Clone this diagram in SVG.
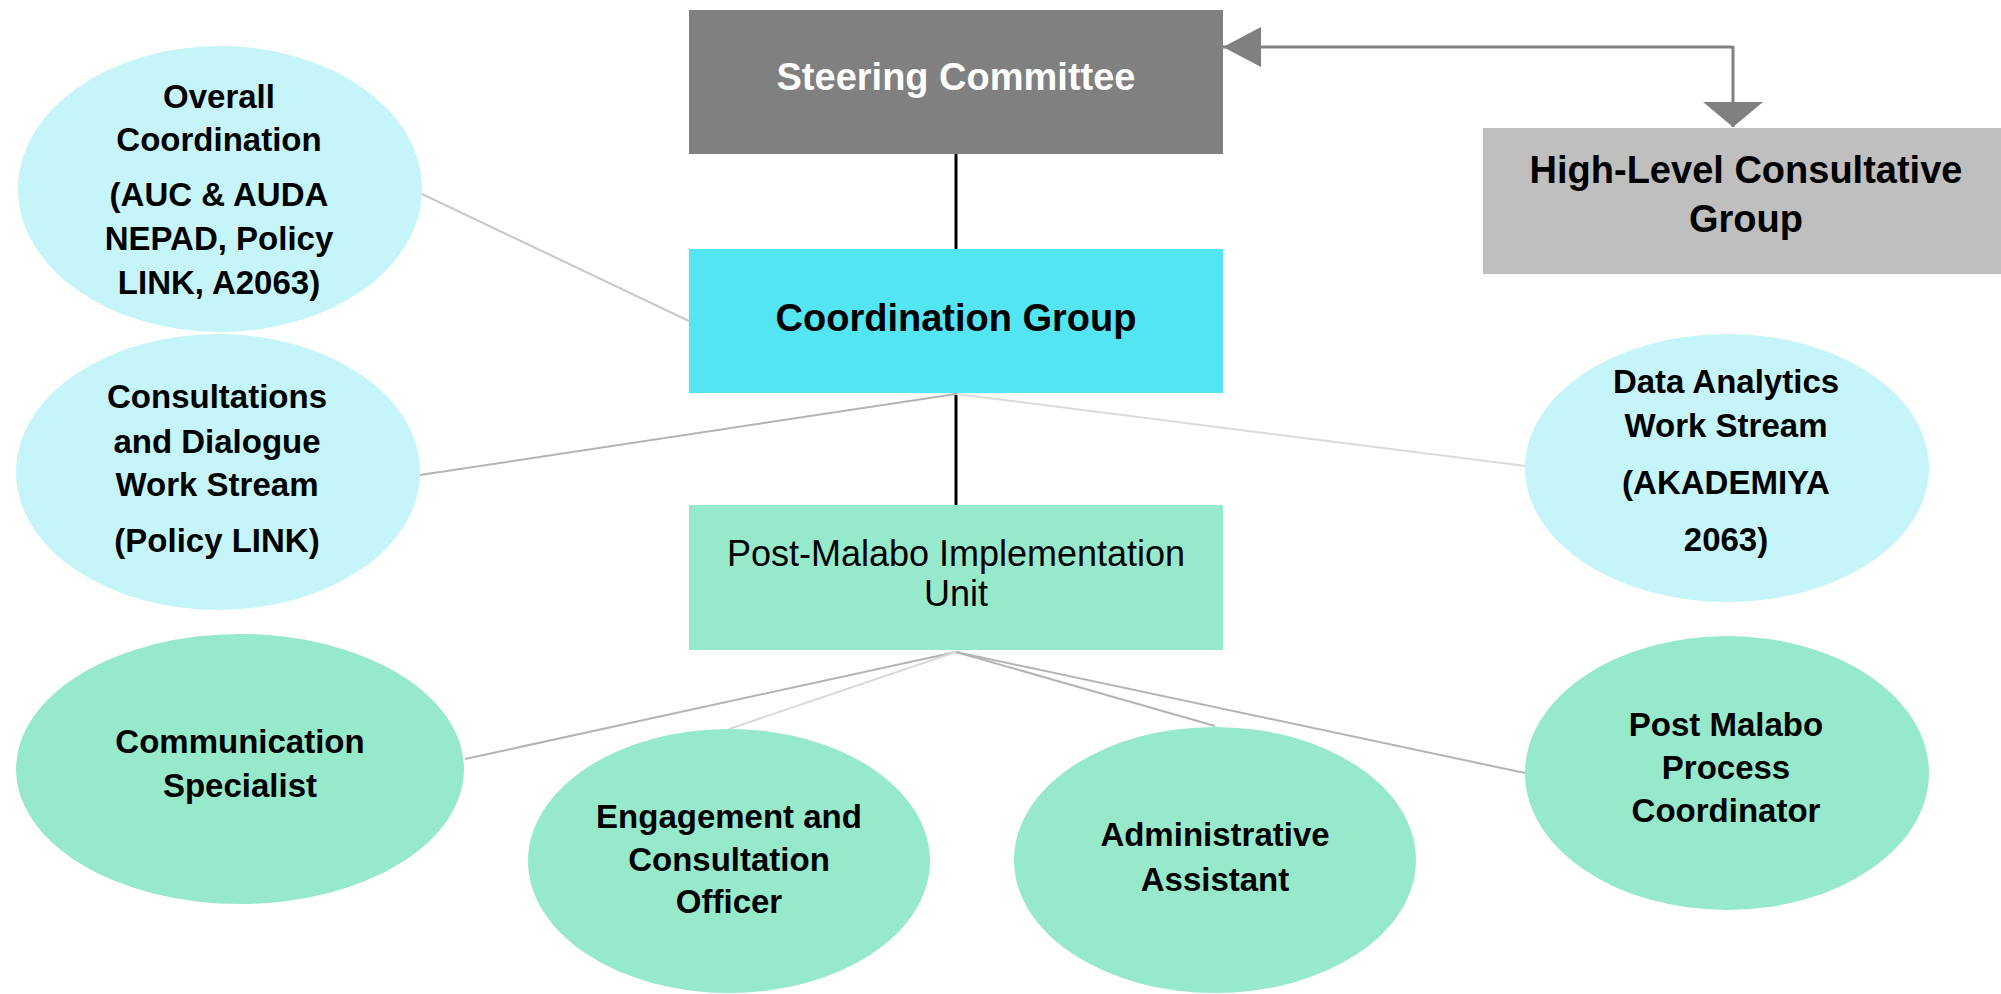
<svg xmlns="http://www.w3.org/2000/svg" width="2001" height="994" viewBox="0 0 2001 994">
<style>
.t{font-family:"Liberation Sans",Arial,sans-serif;font-weight:bold;fill:#000;text-anchor:middle}
.e{font-size:33px}
.box{font-size:38px}
.reg{font-family:"Liberation Sans",Arial,sans-serif;font-weight:normal;font-size:36px;fill:#000;text-anchor:middle}
.lc{fill:#c5f5f8}
.gc{fill:#97e9cb}
.c1{stroke:#c8c8c8;stroke-width:2;fill:none}
.c2{stroke:#b4b4b4;stroke-width:2;fill:none}
.c3{stroke:#dadada;stroke-width:2;fill:none}
.blk{stroke:#000;stroke-width:3;fill:none}
.arr{stroke:#808080;stroke-width:3;fill:none}
</style>
<defs>
<marker id="ahL" markerUnits="userSpaceOnUse" markerWidth="40" markerHeight="42" refX="38" refY="20" orient="auto" viewBox="0 0 40 42">
<path d="M0,0 L38,20 L0,40 Z" fill="#808080"/>
</marker>
<marker id="ahD" markerUnits="userSpaceOnUse" markerWidth="27" markerHeight="62" refX="25" refY="30" orient="auto" viewBox="0 0 27 62">
<path d="M0,0 L25,30 L0,60 Z" fill="#808080"/>
</marker>
</defs>
<rect width="2001" height="994" fill="#fff"/>
<g id="connectors">
<line class="blk" x1="956" y1="153" x2="956" y2="249"/>
<line class="blk" x1="956" y1="393" x2="956" y2="505"/>
<line class="c1" x1="422" y1="194" x2="689" y2="321"/>
<line class="c2" x1="420" y1="475" x2="956" y2="394"/>
<line class="c3" x1="956" y1="394" x2="1526" y2="466"/>
<line class="c2" x1="956" y1="652" x2="465" y2="759"/>
<line class="c3" x1="956" y1="652" x2="729" y2="729"/>
<line class="c2" x1="956" y1="652" x2="1215" y2="726"/>
<line class="c2" x1="956" y1="652" x2="1525" y2="773"/>
<path class="arr" d="M1733,47 H1223" marker-end="url(#ahL)"/>
<path class="arr" d="M1733,46 V127" marker-end="url(#ahD)"/>
</g>
<g id="steering-committee">
<rect x="689" y="10" width="534" height="144" fill="#808080"/>
<text class="t box" x="956" y="90" style="fill:#fff">Steering Committee</text>
</g>
<g id="high-level-consultative-group">
<rect x="1483" y="128" width="518" height="146" fill="#bfbfbf"/>
<text class="t box" x="1746" y="183">High-Level Consultative</text>
<text class="t box" x="1746" y="232">Group</text>
</g>
<g id="coordination-group">
<rect x="689" y="249" width="534" height="144" fill="#53e5f1"/>
<text class="t box" x="956" y="331">Coordination Group</text>
</g>
<g id="post-malabo-implementation-unit">
<rect x="689" y="505" width="534" height="145" fill="#97e9cb"/>
<text class="reg" x="956" y="566">Post-Malabo Implementation</text>
<text class="reg" x="956" y="606">Unit</text>
</g>
<g id="overall-coordination">
<ellipse class="lc" cx="220" cy="189" rx="202" ry="143"/>
<text class="t e" x="219" y="108">Overall</text>
<text class="t e" x="219" y="151">Coordination</text>
<text class="t e" x="219" y="206">(AUC &amp; AUDA</text>
<text class="t e" x="219" y="250">NEPAD, Policy</text>
<text class="t e" x="219" y="294">LINK, A2063)</text>
</g>
<g id="consultations-dialogue">
<ellipse class="lc" cx="218" cy="472" rx="202" ry="138"/>
<text class="t e" x="217" y="408">Consultations</text>
<text class="t e" x="217" y="453">and Dialogue</text>
<text class="t e" x="217" y="496">Work Stream</text>
<text class="t e" x="217" y="552">(Policy LINK)</text>
</g>
<g id="data-analytics">
<ellipse class="lc" cx="1727" cy="468" rx="202" ry="134"/>
<text class="t e" x="1726" y="393">Data Analytics</text>
<text class="t e" x="1726" y="437">Work Stream</text>
<text class="t e" x="1726" y="494">(AKADEMIYA</text>
<text class="t e" x="1726" y="551">2063)</text>
</g>
<g id="communication-specialist">
<ellipse class="gc" cx="240" cy="769" rx="224" ry="135"/>
<text class="t e" x="240" y="753">Communication</text>
<text class="t e" x="240" y="797">Specialist</text>
</g>
<g id="engagement-officer">
<ellipse class="gc" cx="729" cy="861" rx="201" ry="132"/>
<text class="t e" x="729" y="828">Engagement and</text>
<text class="t e" x="729" y="871">Consultation</text>
<text class="t e" x="729" y="913">Officer</text>
</g>
<g id="administrative-assistant">
<ellipse class="gc" cx="1215" cy="860" rx="201" ry="133"/>
<text class="t e" x="1215" y="846">Administrative</text>
<text class="t e" x="1215" y="891">Assistant</text>
</g>
<g id="post-malabo-coordinator">
<ellipse class="gc" cx="1727" cy="773" rx="202" ry="137"/>
<text class="t e" x="1726" y="736">Post Malabo</text>
<text class="t e" x="1726" y="779">Process</text>
<text class="t e" x="1726" y="822">Coordinator</text>
</g>
</svg>
